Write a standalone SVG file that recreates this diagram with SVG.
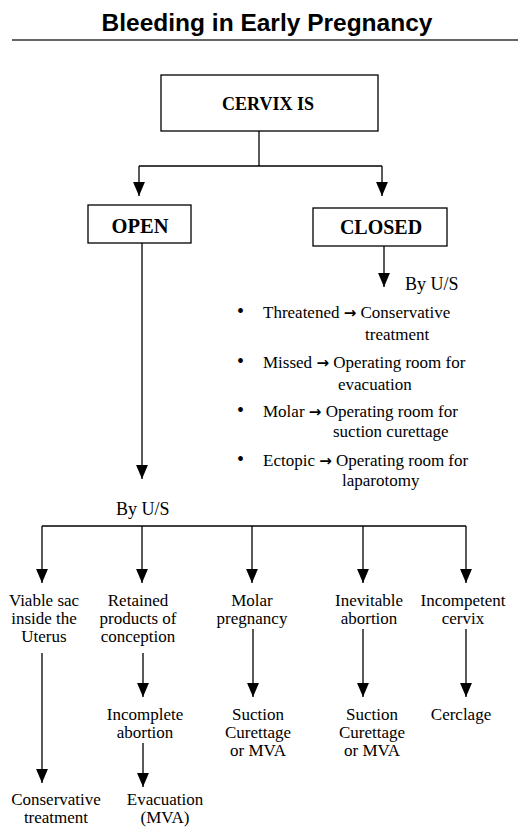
<svg xmlns="http://www.w3.org/2000/svg" width="518" height="828" viewBox="0 0 518 828">
<defs>
<marker id="ah" markerUnits="userSpaceOnUse" markerWidth="14" markerHeight="12" refX="13" refY="5.5" orient="auto" viewBox="0 0 13 11">
<path d="M0,0 L13,5.5 L0,11 Z" fill="#000"/>
</marker>
<style>
.t{font-family:"Liberation Serif","Times New Roman",serif;font-size:17px;fill:#000}
.c{text-anchor:middle}
.b{font-weight:bold}
.a{font-family:"DejaVu Sans",sans-serif;font-size:15px;font-weight:bold}
.box{fill:#fff;stroke:#000;stroke-width:1.3}
.ln{fill:none;stroke:#000;stroke-width:1.3}
.ar{fill:none;stroke:#000;stroke-width:1.3}
</style>
</defs>
<rect width="518" height="828" fill="#fff"/>
<text x="267" y="31" text-anchor="middle" style="font-family:'Liberation Sans',Arial,sans-serif;font-size:24.5px;font-weight:bold">Bleeding in Early Pregnancy</text>
<line x1="12" y1="40" x2="518" y2="40" stroke="#333" stroke-width="1.5"/>

<g id="connectors">
<polyline class="ln" points="259,131 259,166"/>
<polyline class="ln" points="139,166 382,166"/>
<line class="ar" x1="139" y1="166" x2="139" y2="196" marker-end="url(#ah)"/>
<line class="ar" x1="382" y1="166" x2="382" y2="196" marker-end="url(#ah)"/>
<line class="ar" x1="384" y1="246" x2="384" y2="287" marker-end="url(#ah)"/>
<line class="ar" x1="142" y1="243" x2="142" y2="479" marker-end="url(#ah)"/>
<polyline class="ln" points="42,526 466,526"/>
<line class="ar" x1="42" y1="526" x2="42" y2="583" marker-end="url(#ah)"/>
<line class="ar" x1="142" y1="526" x2="142" y2="583" marker-end="url(#ah)"/>
<line class="ar" x1="252" y1="526" x2="252" y2="583" marker-end="url(#ah)"/>
<line class="ar" x1="363" y1="526" x2="363" y2="583" marker-end="url(#ah)"/>
<line class="ar" x1="466" y1="526" x2="466" y2="583" marker-end="url(#ah)"/>
<line class="ar" x1="42" y1="653" x2="42" y2="783" marker-end="url(#ah)"/>
<line class="ar" x1="143" y1="653" x2="143" y2="697" marker-end="url(#ah)"/>
<line class="ar" x1="253" y1="629" x2="253" y2="697" marker-end="url(#ah)"/>
<line class="ar" x1="363" y1="629" x2="363" y2="697" marker-end="url(#ah)"/>
<line class="ar" x1="466" y1="629" x2="466" y2="697" marker-end="url(#ah)"/>
<line class="ar" x1="143" y1="743" x2="143" y2="787" marker-end="url(#ah)"/>
</g>

<g id="cervix">
<rect class="box" x="161" y="75" width="217" height="56"/>
<text class="t c b" x="268" y="110" style="font-size:18px">CERVIX IS</text>
</g>
<g id="open">
<rect class="box" x="88" y="205" width="103" height="38"/>
<text class="t c b" x="140" y="233" style="font-size:20.5px">OPEN</text>
</g>
<g id="closed">
<rect class="box" x="313" y="208" width="134" height="38"/>
<text class="t c b" x="381" y="234" style="font-size:20px">CLOSED</text>
</g>

<g id="closed-us">
<text class="t" x="405" y="290" style="font-size:18px">By U/S</text>
<text class="t" x="237" y="318" style="font-size:20px">•</text>
<text class="t" x="263" y="318">Threatened <tspan class="a">→</tspan> Conservative</text>
<text class="t" x="365" y="340">treatment</text>
<text class="t" x="237" y="368" style="font-size:20px">•</text>
<text class="t" x="263" y="368">Missed <tspan class="a">→</tspan> Operating room for</text>
<text class="t" x="338" y="390">evacuation</text>
<text class="t" x="237" y="417" style="font-size:20px">•</text>
<text class="t" x="263" y="417">Molar <tspan class="a">→</tspan> Operating room for</text>
<text class="t" x="333" y="437">suction curettage</text>
<text class="t" x="237" y="466" style="font-size:20px">•</text>
<text class="t" x="263" y="466">Ectopic <tspan class="a">→</tspan> Operating room for</text>
<text class="t" x="342" y="486">laparotomy</text>
</g>

<g id="open-us">
<text class="t" x="116" y="515" style="font-size:18px">By U/S</text>
</g>

<g id="viable">
<text class="t c" x="44" y="606">Viable sac</text>
<text class="t c" x="44" y="624">inside the</text>
<text class="t c" x="44" y="642">Uterus</text>
</g>
<g id="retained">
<text class="t c" x="138" y="606">Retained</text>
<text class="t c" x="138" y="624">products of</text>
<text class="t c" x="138" y="642">conception</text>
</g>
<g id="molar">
<text class="t c" x="252" y="606">Molar</text>
<text class="t c" x="252" y="624">pregnancy</text>
</g>
<g id="inevitable">
<text class="t c" x="369" y="606">Inevitable</text>
<text class="t c" x="369" y="624">abortion</text>
</g>
<g id="incompetent">
<text class="t c" x="463" y="606">Incompetent</text>
<text class="t c" x="463" y="624">cervix</text>
</g>
<g id="incomplete">
<text class="t c" x="145" y="720">Incomplete</text>
<text class="t c" x="145" y="738">abortion</text>
</g>
<g id="suction1">
<text class="t c" x="258" y="720">Suction</text>
<text class="t c" x="258" y="738">Curettage</text>
<text class="t c" x="258" y="756">or MVA</text>
</g>
<g id="suction2">
<text class="t c" x="372" y="720">Suction</text>
<text class="t c" x="372" y="738">Curettage</text>
<text class="t c" x="372" y="756">or MVA</text>
</g>
<g id="cerclage">
<text class="t c" x="461" y="720">Cerclage</text>
</g>
<g id="conservative">
<text class="t c" x="56" y="805">Conservative</text>
<text class="t c" x="56" y="823">treatment</text>
</g>
<g id="evacuation">
<text class="t c" x="165" y="805">Evacuation</text>
<text class="t c" x="165" y="823">(MVA)</text>
</g>
</svg>
